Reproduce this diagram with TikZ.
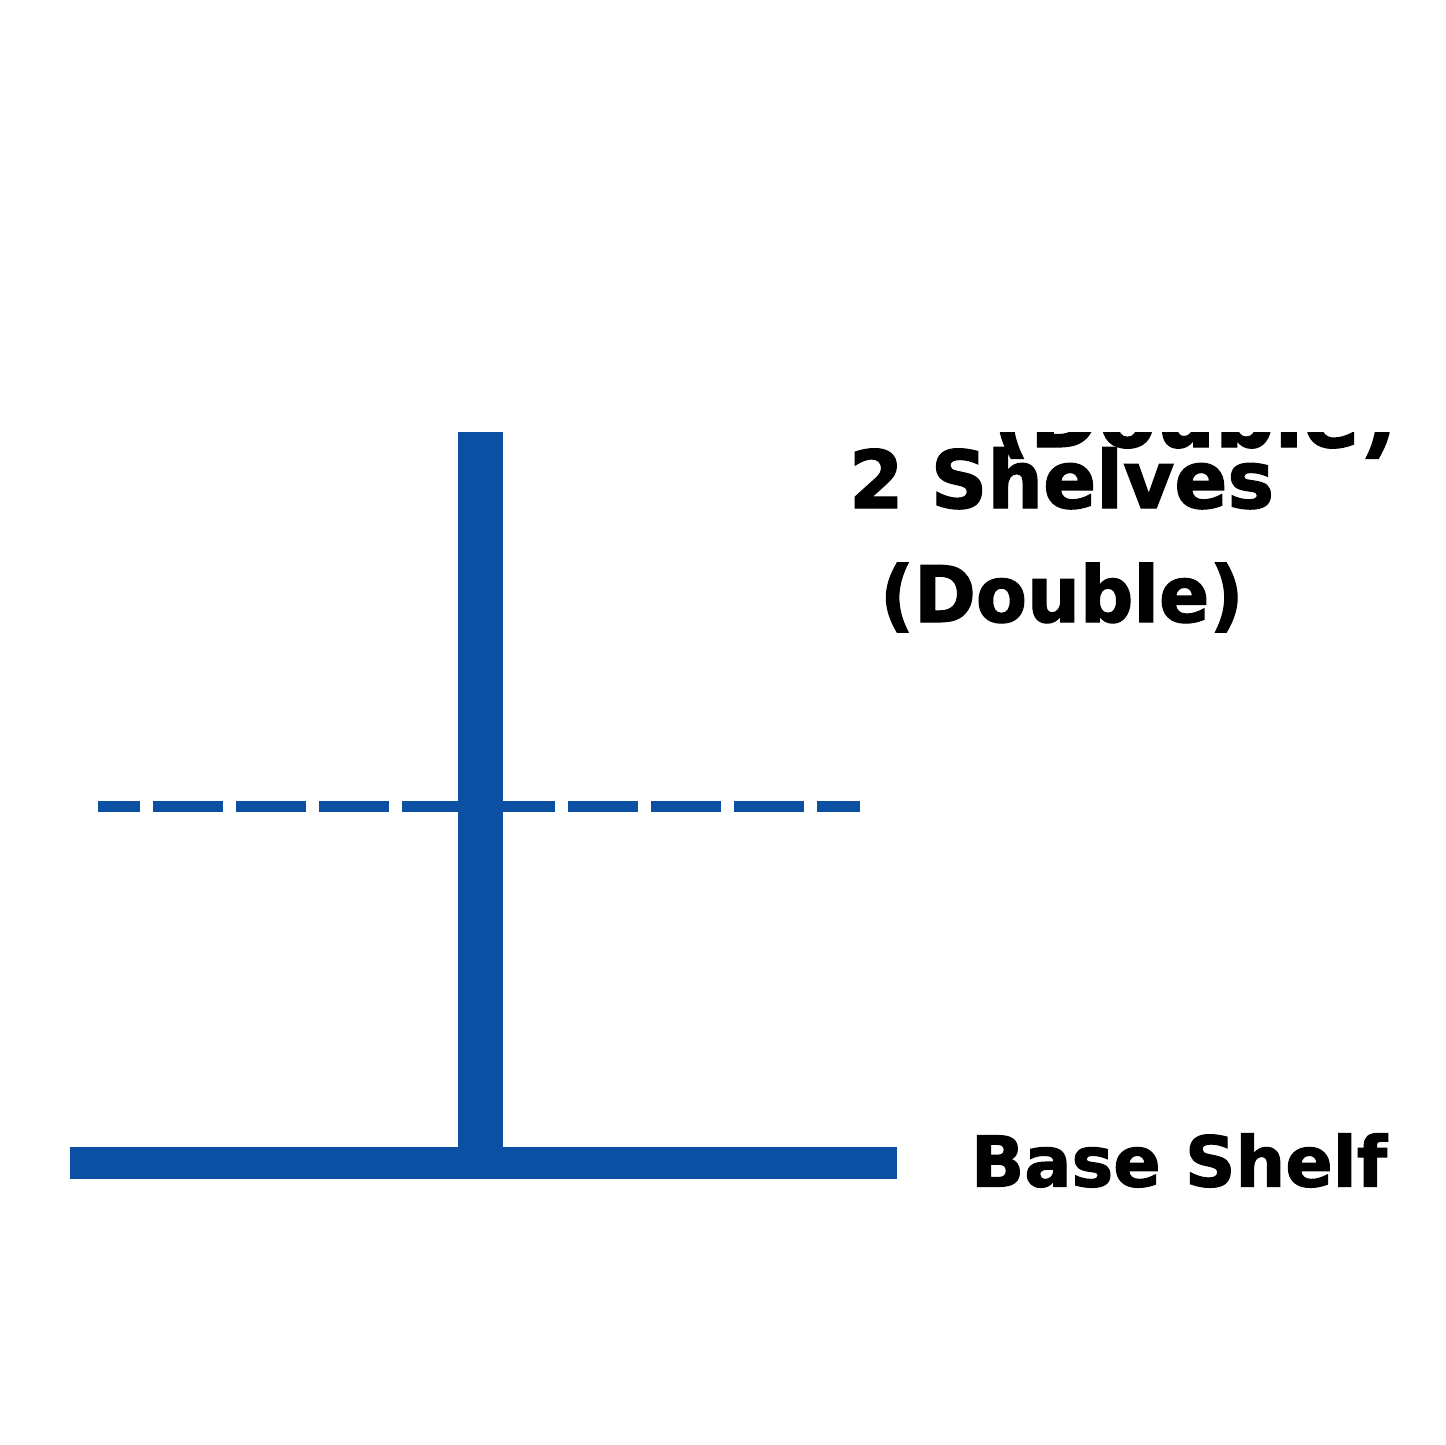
\documentclass[tikz,border=0pt]{standalone}
\usepackage{fontspec}
\usepackage{graphicx}
\setmainfont{DejaVu Sans}[BoldFeatures={FakeBold=1.6}]
\definecolor{shelfblue}{RGB}{11,80,162}
\tikzset{
  shelfbar/.style={fill=shelfblue, draw=none},
  dashline/.style={draw=shelfblue, line width=11.5pt, dash pattern=on 70pt off 13pt, dash phase=28pt},
  lbl/.style={anchor=base west, inner sep=0pt, outer sep=0pt, text=black, font=\bfseries}
}
\begin{document}
\begin{tikzpicture}[x=1pt,y=-1pt]
\useasboundingbox (0,0) rectangle (1445,1445);
\fill[white] (0,0) rectangle (1445,1445);
% dashed shelf line
\coordinate (dl) at (98,806.5);
\coordinate (dr) at (860,806.5);
\draw[dashline] (dl) -- (dr);
% vertical post and base shelf
\path[shelfbar] (458,432) rectangle (503,1179);
\path[shelfbar] (70,1147) rectangle (897,1179);
% texts
\begin{scope}
\clip (0,432) rectangle (1445,1445);
\node[lbl] (dup) at (992,447) {\fontsize{87}{100}\selectfont\scalebox{0.955}[1]{(Double)}};
\end{scope}
\node[lbl] (shelves) at (849,508) {\fontsize{80}{96}\selectfont\scalebox{0.98}[1]{2 Shelves}};
\node[lbl] (double) at (880,622) {\fontsize{78}{94}\selectfont\scalebox{0.955}[1]{(Double)}};
\node[lbl] (base) at (971,1186.5) {\fontsize{70}{84}\selectfont Base Shelf};
\end{tikzpicture}
\end{document}
